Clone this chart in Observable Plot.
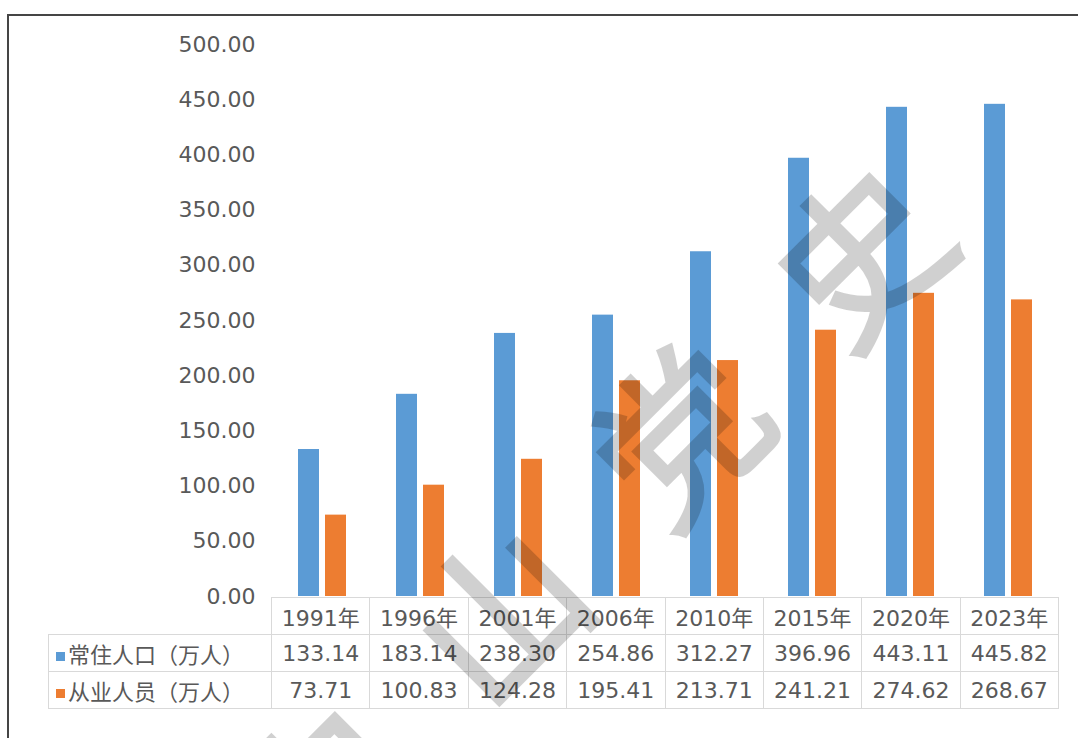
<!DOCTYPE html>
<html><head><meta charset="utf-8">
<script src="https://cdn.jsdelivr.net/npm/d3@7"></script>
<script src="https://cdn.jsdelivr.net/npm/@observablehq/plot@0.6"></script>
<style>
html,body{margin:0;padding:0;background:#fff;width:1078px;height:738px;overflow:hidden;}
#wrap{position:relative;width:1078px;height:738px;overflow:hidden;}
#frame{position:absolute;left:7px;top:14px;width:1200px;height:900px;border-top:2px solid #454545;border-left:2px solid #454545;}
#chart{position:absolute;left:0;top:0;}
#tbl{position:absolute;border-collapse:collapse;table-layout:fixed;font-family:"DejaVu Sans","Noto Sans CJK SC",sans-serif;font-size:22px;color:#595959;}
#tbl td{border:1px solid #d9d9d9;text-align:center;padding:0;height:36px;white-space:nowrap;overflow:hidden;}
#tbl td.lab{text-align:left;padding-left:7px;}
#tbl td.blank{border:none;}
.sw{display:inline-block;width:9px;height:9px;margin-right:3px;vertical-align:middle;position:relative;top:-1px;}
#wm{position:absolute;left:0;top:0;pointer-events:none;}
</style>
</head><body>
<div id="wrap">
<div id="frame"></div>
<div id="chart"></div>
<table id="tbl"></table>
<svg id="wm" width="1078" height="738"></svg>
</div>
<script>
const years = ["1991年","1996年","2001年","2006年","2010年","2015年","2020年","2023年"];
const series = ["常住人口（万人）","从业人员（万人）"];
const resident = [133.14,183.14,238.30,254.86,312.27,396.96,443.11,445.82];
const employed = [73.71,100.83,124.28,195.41,213.71,241.21,274.62,268.67];
const yTicks = [0,50,100,150,200,250,300,350,400,450,500];
const colors = ["#5B9BD5","#ED7D31"];
const watermark = ["中","山","党","史"];

const values = [resident, employed];
const data = years.flatMap((yr,i)=>series.map((s,j)=>({year:yr, series:s, value:values[j][i]})));

const chart = Plot.plot({
  width:1078, height:738,
  marginLeft:271, marginRight:20, marginTop:44, marginBottom:142,
  style:{fontFamily:"'DejaVu Sans','Noto Sans CJK SC',sans-serif", fontSize:"22px", color:"#595959", background:"transparent"},
  fx:{domain:years, padding:0, axis:null, label:null},
  x:{domain:series, paddingInner:0.22, paddingOuter:0.88, axis:null, label:null},
  y:{domain:[0,500], ticks:yTicks, tickFormat:d3.format(".2f"), tickSize:0, tickPadding:18, label:null},
  color:{domain:series, range:colors},
  marks:[
    Plot.barY(data,{fx:"year", x:"series", y:"value", fill:"series"})
  ]
});
document.getElementById("chart").appendChild(chart);

// table aligned to the fx band scale
const fxs = chart.scale("fx");
const ys = chart.scale("y");
const r0 = fxs.range[0], r1 = fxs.range[1];
const step = (r1 - r0) / years.length;
const tableLeft = 48;
const tbl = document.getElementById("tbl");
tbl.style.left = (tableLeft) + "px";
tbl.style.top = (ys.range[0] + 1) + "px";
const cg = document.createElement("colgroup");
const c0 = document.createElement("col"); c0.style.width = (r0 - tableLeft) + "px"; cg.appendChild(c0);
years.forEach(()=>{const c=document.createElement("col"); c.style.width=step+"px"; cg.appendChild(c);});
tbl.appendChild(cg);
tbl.style.width = (r1 - tableLeft) + "px";
const fmt = d3.format(".2f");
let tr = document.createElement("tr");
let td = document.createElement("td"); td.className="blank"; tr.appendChild(td);
years.forEach(yr=>{const t=document.createElement("td"); t.textContent=yr; tr.appendChild(t);});
tbl.appendChild(tr);
series.forEach((s,j)=>{
  const row = document.createElement("tr");
  const lab = document.createElement("td"); lab.className="lab";
  const sw = document.createElement("span"); sw.className="sw"; sw.style.background=colors[j];
  lab.appendChild(sw); lab.appendChild(document.createTextNode(s));
  row.appendChild(lab);
  values[j].forEach(v=>{const t=document.createElement("td"); t.textContent=fmt(v); row.appendChild(t);});
  tbl.appendChild(row);
});

// watermark
const wm = d3.select("#wm");
const g = wm.append("g").attr("transform","translate(584,518) rotate(-45)")
  .attr("opacity",0.18)
  .attr("font-family","Noto Sans CJK SC").attr("font-size",165).attr("font-weight","normal")
  .attr("fill","#000").attr("stroke","#000").attr("stroke-width",4)
  .attr("text-anchor","middle").attr("dominant-baseline","central");
watermark.forEach((ch,i)=>{
  g.append("text").attr("x",(i-(watermark.length-1)/2)*254).attr("y",0).text(ch);
});
</script>
</body></html>
